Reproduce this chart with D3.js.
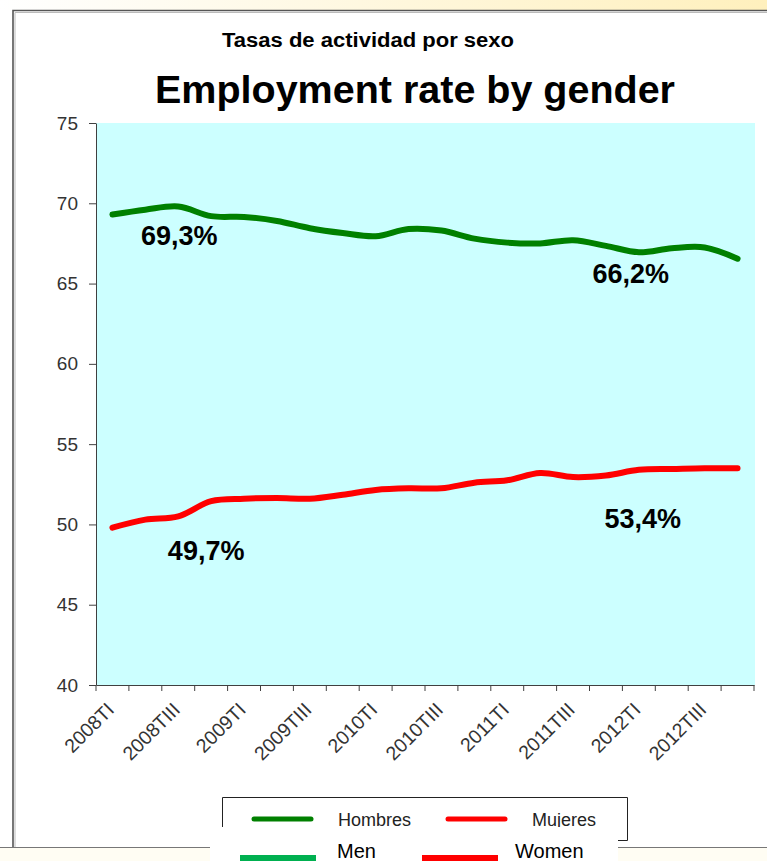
<!DOCTYPE html>
<html>
<head>
<meta charset="utf-8">
<script src="https://cdn.jsdelivr.net/npm/d3@7"></script>
<style>
  html, body { margin: 0; padding: 0; background: #ffffff; }
  svg { display: block; font-family: "Liberation Sans", Arial, sans-serif; }
</style>
</head>
<body>
<svg id="chart" width="767" height="861"></svg>
<script>
// quarters shown on the x axis (2008TI .. 2012TIV)
const quarters = [
	"2008TI", "2008TII", "2008TIII", "2008TIV",
	"2009TI", "2009TII", "2009TIII", "2009TIV",
	"2010TI", "2010TII", "2010TIII", "2010TIV",
	"2011TI", "2011TII", "2011TIII", "2011TIV",
	"2012TI", "2012TII", "2012TIII", "2012TIV"
];

// series values
const hombres = [69.3, 69.6, 69.8, 69.2, 69.15, 68.9, 68.45, 68.15, 67.95, 68.4,
	68.3, 67.8, 67.55, 67.5, 67.7, 67.35, 66.95, 67.2, 67.25, 66.55];
const mujeres = [49.8, 50.3, 50.5, 51.45, 51.6, 51.65, 51.6, 51.85, 52.15, 52.25,
	52.25, 52.6, 52.75, 53.2, 52.95, 53.05, 53.4, 53.45, 53.5, 53.5];

const yTicks = [40, 45, 50, 55, 60, 65, 70, 75];

// annotations: text, anchor quarter, anchor value, offsets
const annLabels = ["69,3%", "66,2%", "49,7%", "53,4%"];
const annQuarter = ["2008TIII", "2012TI", "2008TIV", "2012TI"];
const annValue = [69.3, 66.2, 49.7, 53.4];
const annDx = [1, -8, -5, 4];
const annDy = [30, 19, 31, 58];

const svg = d3.select("#chart");

// page decoration: gradient strip, frame, bottom area
const defs = svg.append("defs");
const grad = defs.append("linearGradient").attr("id", "topStrip");
grad.append("stop").attr("offset", "0%").attr("stop-color", "#ffffff");
grad.append("stop").attr("offset", "100%").attr("stop-color", "#fff0bd");

svg.append("rect").attr("x", 0).attr("y", 0).attr("width", 767).attr("height", 10)
	.attr("fill", "url(#topStrip)");
svg.append("rect").attr("x", 0).attr("y", 848).attr("width", 767).attr("height", 13)
	.attr("fill", "#fffdf3");
svg.append("path")
	.attr("d", "M13,848 V10.5 H767")
	.attr("fill", "none")
	.attr("stroke", "#555")
	.attr("stroke-width", 1.6);
svg.append("path")
	.attr("d", "M15,848 V12.5 H767")
	.attr("fill", "none")
	.attr("stroke", "#bbb")
	.attr("stroke-width", 1);
svg.append("line")
	.attr("x1", 0).attr("x2", 767).attr("y1", 847.5).attr("y2", 847.5)
	.attr("stroke", "#777").attr("stroke-width", 1);

// titles
svg.append("text")
	.attr("x", 222).attr("y", 47)
	.attr("font-size", 20).attr("font-weight", "bold")
	.attr("textLength", 292).attr("lengthAdjust", "spacingAndGlyphs")
	.text("Tasas de actividad por sexo");

svg.append("text")
	.attr("x", 155).attr("y", 103)
	.attr("font-size", 38).attr("font-weight", "bold")
	.attr("textLength", 520).attr("lengthAdjust", "spacingAndGlyphs")
	.text("Employment rate by gender");

// scales
const xScale = d3.scaleBand()
	.domain(quarters)
	.range([96, 754])
	.padding(0);

const yScale = d3.scaleLinear()
	.domain([40, 75])
	.range([685, 123]);

const cx = q => xScale(q) + xScale.bandwidth() / 2;

// plot background
svg.append("rect")
	.attr("x", xScale.range()[0])
	.attr("y", yScale(75))
	.attr("width", xScale.range()[1] - xScale.range()[0] + 1)
	.attr("height", yScale(40) - yScale(75))
	.attr("fill", "#ccffff");

// y axis
const yAxis = svg.append("g")
	.attr("transform", `translate(${xScale.range()[0]},0)`)
	.call(d3.axisLeft(yScale).tickValues(yTicks).tickSize(7).tickPadding(11).tickSizeOuter(0));
yAxis.selectAll("path, line").attr("stroke", "#404040");
yAxis.selectAll("text")
	.attr("font-family", "Liberation Sans, Arial, sans-serif")
	.attr("font-size", 19)
	.attr("fill", "#333");

// x axis: line, boundary ticks, rotated labels every second quarter
const xAxis = svg.append("g")
	.attr("transform", `translate(0,${yScale(40)})`)
	.call(d3.axisBottom(xScale).tickSize(0).tickSizeOuter(0).tickFormat(""));
xAxis.select(".domain").attr("stroke", "#404040");

svg.append("g")
	.selectAll("line")
	.data(quarters.map(q => xScale(q)).concat([xScale.range()[1]]))
	.join("line")
	.attr("x1", d => d).attr("x2", d => d)
	.attr("y1", yScale(40)).attr("y2", yScale(40) + 6)
	.attr("stroke", "#404040");

svg.append("g")
	.selectAll("text")
	.data(quarters.filter((q, i) => i % 2 === 0))
	.join("text")
	.attr("transform", d => `translate(${cx(d) + 3},${yScale(40) + 26}) rotate(-45)`)
	.attr("text-anchor", "end")
	.attr("font-size", 19.5)
	.attr("fill", "#333")
	.text(d => d);

// lines
const line = d3.line()
	.x((d, i) => cx(quarters[i]))
	.y(d => yScale(d))
	.curve(d3.curveCatmullRom.alpha(0.5));

svg.append("path")
	.datum(hombres)
	.attr("d", line)
	.attr("fill", "none")
	.attr("stroke", "#008000")
	.attr("stroke-width", 6)
	.attr("stroke-linecap", "round")
	.attr("stroke-linejoin", "round");

svg.append("path")
	.datum(mujeres)
	.attr("d", line)
	.attr("fill", "none")
	.attr("stroke", "#ff0000")
	.attr("stroke-width", 6)
	.attr("stroke-linecap", "round")
	.attr("stroke-linejoin", "round");

// value annotations
svg.append("g")
	.selectAll("text")
	.data(annLabels)
	.join("text")
	.attr("x", (d, i) => cx(annQuarter[i]) + annDx[i])
	.attr("y", (d, i) => yScale(annValue[i]) + annDy[i])
	.attr("text-anchor", "middle")
	.attr("font-size", 27)
	.attr("font-weight", "bold")
	.attr("fill", "#000")
	.text(d => d);

// legend (Spanish)
const legend = svg.append("g");
legend.append("path")
	.attr("d", "M222.5,827 V797.5 H627.5 V840.5 H610")
	.attr("fill", "none")
	.attr("stroke", "#222")
	.attr("stroke-width", 1);

const legendNames = ["Hombres", "Mujeres"];
const legendColors = ["#008000", "#ff0000"];
const legendX = [254, 448];
legendNames.forEach((name, i) => {
	legend.append("line")
		.attr("x1", legendX[i]).attr("x2", legendX[i] + 57)
		.attr("y1", 819).attr("y2", 819)
		.attr("stroke", legendColors[i])
		.attr("stroke-width", 5)
		.attr("stroke-linecap", "round");
	legend.append("text")
		.attr("x", legendX[i] + 84).attr("y", 826)
		.attr("font-size", 18)
		.attr("fill", "#222")
		.text(name);
});

// legend (English) on a white patch
svg.append("rect")
	.attr("x", 210).attr("y", 827)
	.attr("width", 408).attr("height", 34)
	.attr("fill", "#ffffff");

const engNames = ["Men", "Women"];
const engColors = ["#00b050", "#ff0000"];
const engX = [240, 422];
engNames.forEach((name, i) => {
	svg.append("rect")
		.attr("x", engX[i]).attr("y", 855)
		.attr("width", 76).attr("height", 6)
		.attr("fill", engColors[i]);
	svg.append("text")
		.attr("x", engX[i] + (i === 0 ? 97 : 93)).attr("y", 858)
		.attr("font-size", 20)
		.attr("fill", "#000")
		.text(name);
});
</script>
</body>
</html>
